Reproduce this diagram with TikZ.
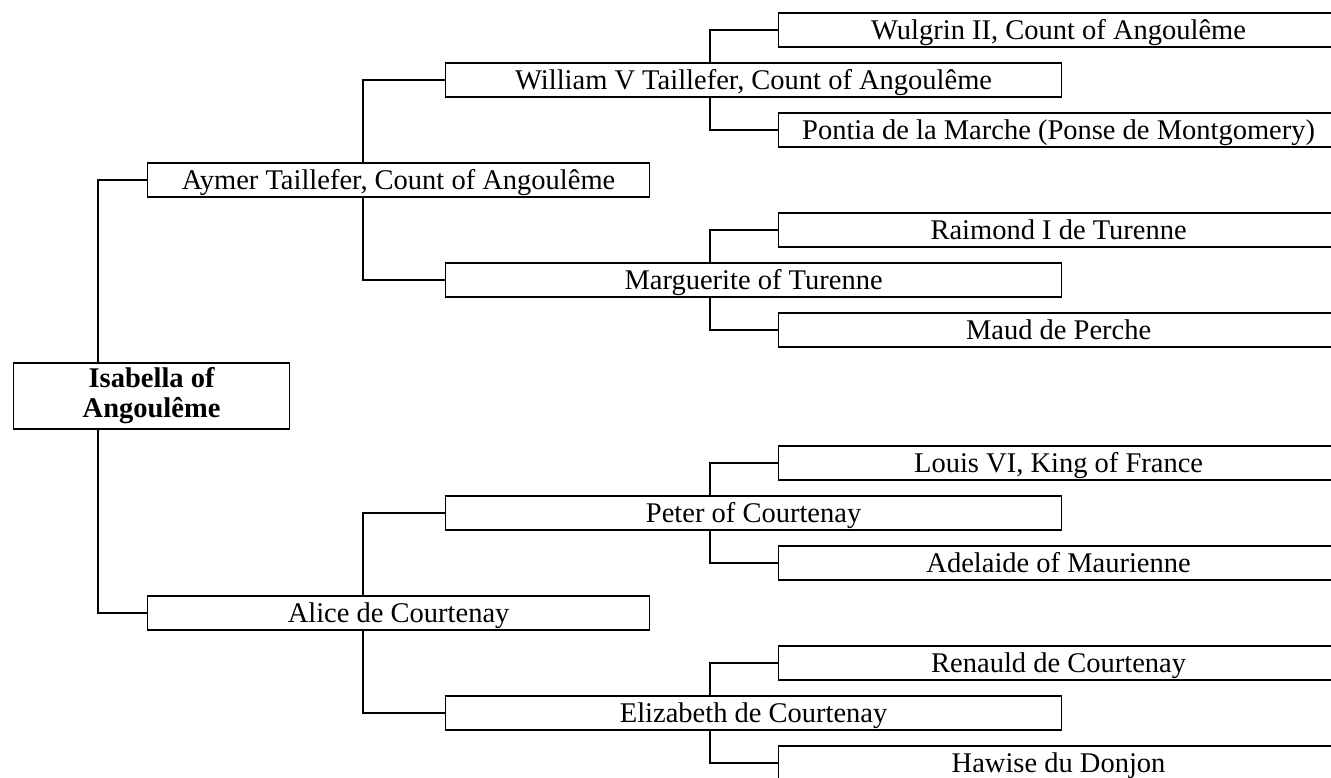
\documentclass[tikz,border=0pt]{standalone}
\usepackage{fontspec}
\setmainfont{Liberation Serif}
\usepackage{tikz}

\begin{document}
\begin{tikzpicture}[x=1pt, y=-1pt, line width=1.2pt,
		person/.style={draw, anchor=west, inner sep=0pt, minimum height=34pt, font=\fontsize{28.5}{30}\selectfont},
		gen/.style={person, text height=24pt, text depth=6pt},
		gen1/.style={gen, minimum width=502pt},
		gen2/.style={gen, minimum width=616pt},
		gen3/.style={gen, minimum width=560pt}]
		\useasboundingbox (0, 0) rectangle (1331, 777);
		\node[person, minimum width=276pt, minimum height=66pt, align=center, font=\fontsize{28.5}{30}\selectfont\bfseries] (isabella) at (13, 396) {Isabella of\\Angoulême};
		\node[gen1] (aymer) at (147, 180) {Aymer Taillefer, Count of Angoulême};
		\node[gen1] (alice) at (147, 613) {Alice de Courtenay};
		\node[gen2] (william) at (445, 80) {William V Taillefer, Count of Angoulême};
		\node[gen2] (marguerite) at (445, 280) {Marguerite of Turenne};
		\node[gen2] (peter) at (445, 513) {Peter of Courtenay};
		\node[gen2] (elizabeth) at (445, 713) {Elizabeth de Courtenay};
		\node[gen3] (wulgrin) at (778, 30) {Wulgrin II, Count of Angoulême};
		\node[gen3] (pontia) at (778, 130) {Pontia de la Marche (Ponse de Montgomery)};
		\node[gen3] (raimond) at (778, 230) {Raimond I de Turenne};
		\node[gen3] (maud) at (778, 330) {Maud de Perche};
		\node[gen3] (louis) at (778, 463) {Louis VI, King of France};
		\node[gen3] (adelaide) at (778, 563) {Adelaide of Maurienne};
		\node[gen3] (renauld) at (778, 663) {Renauld de Courtenay};
		\node[gen3] (hawise) at (778, 763) {Hawise du Donjon};
		\foreach \src/\anc/\off/\dst in {isabella/north west/85pt/aymer, isabella/south west/85pt/alice,
				aymer/north west/216pt/william, aymer/south west/216pt/marguerite,
				alice/north west/216pt/peter, alice/south west/216pt/elizabeth,
				william/north west/265pt/wulgrin, william/south west/265pt/pontia,
				marguerite/north west/265pt/raimond, marguerite/south west/265pt/maud,
				peter/north west/265pt/louis, peter/south west/265pt/adelaide,
				elizabeth/north west/265pt/renauld, elizabeth/south west/265pt/hawise}
			\draw ([xshift=\off]\src.\anc) |- (\dst.west);
	\end{tikzpicture}
\end{document}
